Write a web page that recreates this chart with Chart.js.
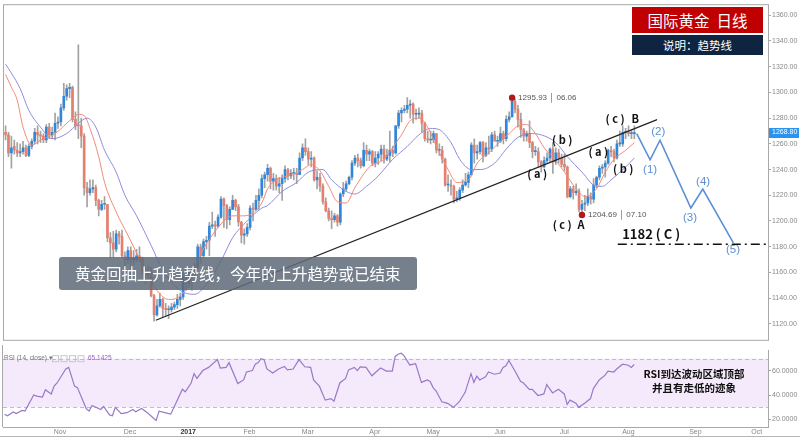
<!DOCTYPE html>
<html><head><meta charset="utf-8">
<script src="https://cdn.jsdelivr.net/npm/chart.js@4.4.0/dist/chart.umd.min.js"></script>
<style>
html,body{margin:0;padding:0;background:#fff;}
#wrap{position:relative;width:800px;height:437px;overflow:hidden;font-family:"Noto Sans CJK SC","Noto Sans",sans-serif;}
canvas{position:absolute;left:0;}
#c1{top:0;}
#c2{top:345px;}
.ov{position:absolute;white-space:nowrap;}
.title{left:632px;top:7px;width:131px;height:26px;background:#c00000;color:#fff;font-size:15.5px;line-height:26px;text-align:center;}
.sub{left:632px;top:35px;width:131px;height:20px;background:#0f2440;color:#fff;font-size:11.5px;line-height:20px;text-align:center;}
.note{left:59px;top:257px;width:358px;height:33px;background:rgba(96,106,121,0.86);border-radius:3px;color:#fff;font-size:15.5px;line-height:33px;padding-left:16px;box-sizing:border-box;}
.rsinote{left:634px;top:367px;width:120px;text-align:center;font-weight:bold;font-size:10.5px;line-height:14px;color:#111;}
.bottomline{left:0;top:436px;width:800px;height:1px;background:#b5b5b5;}
</style></head>
<body>
<div id="wrap">
  <canvas id="c1" width="800" height="345"></canvas>
  <canvas id="c2" width="800" height="92"></canvas>
  <div class="ov title">国际黄金&nbsp;&nbsp;日线</div>
  <div class="ov sub">说明：趋势线</div>
  <div class="ov note">黄金回抽上升趋势线，今年的上升趋势或已结束</div>
  <div class="ov rsinote">RSI到达波动区域顶部<br>并且有走低的迹象</div>
  <div class="ov bottomline"></div>
</div>
<script>
// ---------------- DATA ----------------
const firstDay = -2; // trading-day number of the first candle (Nov 1 2016 = 17)
const openPrices = [
 1269,1267,1253,1258,1255,1253,1254,1257,1251,1258,1262,1269,1267,1266,1263,1273,1267,1269,1276,
 1277,1288,1297,1303,1304,1279,1275,1274,1266,1226,1222,1225,1226,1216,1209,1213,1213,1187,1183,1178,1190,1188,
 1173,1170,1177,1170,1170,1173,1171,1160,1158,1160,1142,1127,1134,1139,1132,1131,1131,1133,1135,1139,1141,1157,
 1151,1160,1160,1164,1180,1173,1184,1185,1196,1197,1196,1203,1217,1212,1201,1209,1216,1211,1199,1189,1190,1195,
 1210,1209,1216,1220,1233,1236,1241,1231,1233,1227,1229,1233,1240,1235,1237,1237,1236,1249,1257,1254,
 1248,1249,1232,1234,1227,1215,1208,1202,1201,1204,1199,1221,1225,1229,1234,1245,1249,1247,1243,1255,1252,1254,1245,
 1249,1252,1256,1248,1251,1255,1253,1274,1284,1286,1287,1290,1291,1283,1283,1284,1276,1264,1263,1263,
 1268,1255,1255,1248,1228,1228,1227,1217,1218,1224,1228,1230,1236,1259,1253,1254,1261,1251,1257,1256,1267,1262,1262,
 1268,1264,1279,1281,1293,1287,1279,1271,1266,1268,1261,1254,1254,1246,1242,1247,1249,1256,1246,1253,1249,1244,
 1242,1219,1225,1222,1223,1209,1213,1214,1219,1217,1228,1234,1241,1242,1245,1255,1254,1249,1260,1260,1269,
 1269,1268,1268];
const highPrices = [
 1274,1269,1266,1263,1261,1260,1262,1259,1260,1264,1272,1274,1270,1268,1275,1276,1273,1284,1281,
 1291,1307,1306,1307,1305,1285,1337,1280,1268,1230,1232,1232,1228,1217,1216,1219,1213,1191,1192,1193,1192,1193,
 1176,1180,1180,1177,1178,1180,1172,1164,1165,1164,1143,1139,1144,1140,1136,1134,1136,1137,1143,1144,1160,1163,
 1162,1163,1167,1182,1182,1186,1188,1199,1207,1200,1205,1219,1218,1213,1211,1220,1217,1213,1200,1194,1198,1212,
 1214,1220,1225,1236,1238,1244,1242,1237,1236,1234,1236,1243,1241,1240,1241,1241,1253,1260,1264,1257,
 1254,1250,1239,1237,1229,1218,1210,1208,1206,1205,1222,1230,1231,1235,1247,1251,1252,1249,1261,1259,1256,1255,1254,
 1254,1259,1259,1256,1270,1258,1274,1286,1288,1290,1296,1294,1292,1287,1288,1286,1277,1270,1270,1270,
 1268,1260,1258,1249,1236,1232,1228,1223,1226,1232,1237,1238,1261,1264,1259,1262,1262,1261,1266,1269,1270,1266,1273,
 1270,1282,1285,1295.93,1295,1290,1284,1272,1270,1278,1262,1258,1257,1247,1250,1253,1257,1261,1257,1256,1252,1252,
 1243,1227,1227,1229,1225,1216,1220,1225,1222,1233,1235,1243,1244,1247,1256,1258,1256,1263,1270,1274,1272,
 1274,1271,1274];
const lowPrices = [
 1263,1250,1241,1252,1250,1250,1252,1250,1250,1256,1260,1260,1261,1261,1261,1264,1264,1263,1272,
 1274,1286,1294,1296,1277,1271,1264,1257,1220,1211,1220,1222,1212,1204,1208,1209,1184,1171,1172,1176,1182,1171,
 1164,1167,1158,1166,1168,1168,1158,1151,1155,1141,1122,1126,1133,1125,1126,1124,1129,1131,1132,1134,1139,1146,
 1148,1146,1157,1163,1167,1171,1178,1173,1194,1188,1195,1202,1195,1194,1197,1209,1208,1196,1183,1182,1188,1193,
 1200,1208,1209,1218,1226,1231,1225,1224,1224,1222,1216,1230,1232,1233,1232,1229,1236,1247,1251,1244,
 1242,1231,1225,1223,1213,1207,1200,1194,1199,1196,1197,1219,1223,1228,1232,1243,1242,1241,1242,1247,1247,1243,1242,
 1244,1247,1245,1247,1246,1250,1252,1272,1277,1284,1284,1280,1276,1279,1280,1269,1262,1261,1260,1261,
 1253,1251,1245,1227,1223,1220,1214,1215,1216,1222,1227,1226,1235,1245,1248,1252,1246,1250,1252,1254,1262,1258,1261,
 1260,1262,1277,1281,1284,1273,1265,1262,1262,1257,1249,1251,1242,1238,1241,1245,1246,1237,1244,1245,1242,1239,
 1218,1218,1217,1220,1207,1204.69,1208,1212,1213,1214,1226,1232,1237,1234,1244,1250,1246,1248,1258,1258,1264,
 1266,1264,1264];
const closePrices = [
 1267,1253,1257,1255,1253,1254,1257,1251,1258,1262,1269,1267,1266,1263,1273,1267,1269,1276,1277,
 1288,1297,1303,1304,1279,1274,1274,1266,1226,1222,1225,1226,1216,1209,1213,1213,1187,1183,1178,1190,1188,1173,
 1170,1177,1170,1170,1173,1171,1160,1158,1160,1142,1127,1134,1139,1132,1131,1131,1133,1135,1139,1141,1157,1151,
 1160,1160,1164,1180,1173,1184,1185,1196,1197,1196,1203,1217,1212,1201,1209,1216,1211,1199,1189,1190,1195,1210,
 1209,1216,1220,1233,1236,1241,1231,1233,1227,1229,1233,1240,1235,1237,1237,1236,1249,1257,1254,1248,
 1249,1232,1234,1227,1215,1208,1202,1201,1204,1199,1221,1225,1229,1234,1245,1249,1247,1243,1255,1252,1254,1245,1249,
 1252,1256,1248,1251,1255,1253,1274,1284,1286,1287,1290,1291,1283,1283,1284,1276,1264,1263,1263,1268,
 1255,1255,1248,1228,1228,1227,1217,1218,1224,1228,1230,1236,1259,1253,1254,1261,1251,1257,1256,1267,1262,1262,1268,
 1264,1279,1281,1293,1287,1279,1271,1266,1268,1261,1254,1254,1246,1242,1247,1249,1256,1246,1253,1249,1244,1242,
 1219,1225,1222,1223,1209,1213,1214,1219,1217,1228,1234,1241,1242,1245,1255,1254,1249,1260,1260,1269,1269,
 1268,1268,1268.8];

const maFastDays = [-2,0,2,4,7,10,15,21,23,25,27,30,32,36,40,46,50,54,57,61,65,69,73,76,79,82,86,88,91,95,100,103,106,109,112,115,118,123,128,130,134,137,140,143,146,150,153,157,160,164,168,171,174,177,180,183,187,190,194,197,201,204,207,211,214];
const maFastValues = [1314,1304,1294,1273,1259,1263,1268,1280,1283,1282,1272,1250,1230,1207,1189,1162,1146,1139,1140,1151,1174,1189,1200,1204,1204,1205,1214,1225,1232,1235,1240,1244,1239,1227,1215,1214,1226,1242,1248,1254,1267,1278,1280,1273,1258,1240,1230,1232,1245,1253,1262,1268,1274,1275,1268,1257,1247,1238,1225,1219,1225,1238,1248,1255,1261];
const maSlowDays = [-2,0,3,6,10,14,19,23,26,29,32,36,39,43,48,52,58,63,67,72,76,81,86,88,93,98,102,107,110,115,118,122,126,131,136,140,144,147,151,154,158,161,166,170,174,178,182,187,191,196,201,203,206,211,214];
const maSlowValues = [1322,1315,1303,1286,1273,1264,1268,1276,1280,1273,1255,1238,1220,1204,1181,1162,1146,1143,1151,1169,1187,1200,1210,1212,1223,1230,1238,1240,1232,1223,1221,1227,1235,1248,1258,1267,1272,1271,1261,1248,1240,1240,1245,1256,1265,1268,1267,1261,1250,1238,1227,1227,1232,1242,1249];

const rsiDays = [-2,-1,1,2,4,5,8,9,11,12,14,15,16,19,20,22,23,26,27,28,31,32,34,35,36,38,40,42,43,45,47,50,51,53,55,57,59,60,62,63,64,66,68,71,72,74,75,78,80,81,83,84,85,86,87,88,90,92,94,95,97,99,101,103,104,106,108,110,111,113,115,116,118,119,120,122,124,126,127,129,131,132,133,134,135,137,139,141,143,144,145,146,148,150,152,154,155,156,158,159,160,161,163,164,166,168,169,170,171,173,175,176,178,179,181,183,184,186,188,190,191,192,194,195,197,199,200,202,204,205,207,208,210,212,213,214];
const rsiValues = [24.4,23,26.2,24.9,27.5,26.9,40.2,39.2,38.5,44.4,41,47.4,50,61.5,62.8,47.4,46.2,29,26.9,31.5,28.2,30.8,23.8,23.1,30,24.9,25.6,28.2,26.4,29,25.6,19.2,26.9,25.6,24.4,34.6,44.8,42.8,50,57.7,53.8,60.2,62.8,69.2,62.3,62.8,66.7,49.5,52.5,59,60.2,65.4,66.7,70,69.2,61.5,58.2,61.5,63.6,60.8,61.5,69.2,63.3,62.8,52.5,47.4,35.9,37.2,35.1,50,53.8,60.8,62.8,60.2,63.3,62.8,55.9,60.2,62.3,59.8,59.8,71.8,73.6,74.4,72.5,64.8,65.9,50.5,52.5,51.3,46.2,43.6,34.6,33.3,30,34.6,38.5,42.3,57.7,50.5,55.6,52.5,55.1,59,57.2,58.2,62.8,64.1,68.5,60.2,51.3,50,44.8,44.8,39.7,41,48.7,41.8,44.8,41,32.5,35.9,33.3,30,33.3,37.2,45.4,52.5,56.4,59.8,59,61.5,65.4,64.6,62.8,65.14];
const rsiLastText = '65.1425';

const priceTicks = [1120,1140,1160,1180,1200,1220,1240,1260,1280,1300,1320,1340,1360];
const rsiTicks = [20,40,60];
const monthLabels = ['Nov','Dec','2017','Feb','Mar','Apr','May','Jun','Jul','Aug','Sep','Oct'];
const monthDays = [17,41,61,82,102,125,145,168,190,212,235,256];

const trendDays = [49.6,221.8];
const trendValues = [1122.8,1278.8];
const waveDays = [214.8,219.4,222.8,233.4,237.5,248];
const waveValues = [1268,1247.6,1262.8,1210.1,1224.8,1183];
const waveTexts = ['(1)','(2)','(3)','(4)','(5)'];
const waveTextDays = [219.4,222.2,233.1,237.6,247.9];
const waveTextValues = [1240,1269.7,1202.7,1230.1,1177.6];
const letterTexts = ['( c )','B','( a )','( b )','( b )','( a )','( c )','A'];
const letterDays = [207.4,214.3,201.6,210.2,189.2,180.6,189.2,195.7];
const letterValues = [1279.6,1279.6,1253.7,1240.8,1262.8,1237,1197.4,1197.4];
const targetLevel = 1182;
const targetDays = [208.3,259.9];
const targetText = '1182 ( C )';
const targetTextDay = 209.8, targetTextValue = 1189.8;
const extremeDays = [172,196];
const extremeValues = [1295.93,1204.69];
const extremeTexts = ['1295.93 │ 06.06','1204.69 │ 07.10'];
const lastPrice = 1268.80;

// ---------------- CHART ----------------
const xMin = -2.54, xMax = 259.9;
const UP = '#2f87dd', DOWN = '#e4806d', WICK = '#a2a2a2';
const days = closePrices.map((_,k)=>firstDay+k);
const isUp = k => closePrices[k] >= openPrices[k];
const pts = (xs,ys)=>xs.map((d,k)=>({x:d,y:ys[k]}));
const latin = '"Liberation Sans", Arial, sans-serif';
const cjk = '"Noto Sans CJK SC", sans-serif';

const mainPlugin = {
  id:'mainDeco',
  afterDatasetsDraw(chart){
    const {ctx, chartArea:a} = chart;
    const x = chart.scales.x, y = chart.scales.y;
    ctx.save();
    ctx.strokeStyle = '#a8a8a8'; ctx.lineWidth = 1;
    ctx.strokeRect(a.left-0.5, a.top-0.5, a.right-a.left+1, a.bottom-a.top+1);
    ctx.textAlign='center'; ctx.textBaseline='middle';
    ctx.fillStyle='#5b8fd0'; ctx.font='11.5px '+latin;
    waveTexts.forEach((t,k)=>ctx.fillText(t, x.getPixelForValue(waveTextDays[k]), y.getPixelForValue(waveTextValues[k])));
    ctx.fillStyle='#111'; ctx.font='bold 11px '+cjk;
    letterTexts.forEach((t,k)=>ctx.fillText(t, x.getPixelForValue(letterDays[k]), y.getPixelForValue(letterValues[k])));
    ctx.textAlign='left'; ctx.font='bold 13px '+cjk;
    ctx.fillText(targetText, x.getPixelForValue(targetTextDay), y.getPixelForValue(targetTextValue));
    ctx.fillStyle='#555'; ctx.font='8px '+latin;
    extremeTexts.forEach((t,k)=>ctx.fillText(t, x.getPixelForValue(extremeDays[k])+6, y.getPixelForValue(extremeValues[k])));
    ctx.restore();
  },
  afterDraw(chart){
    const {ctx, chartArea:a} = chart;
    const py = chart.scales.y.getPixelForValue(lastPrice);
    ctx.save();
    ctx.fillStyle='#2a93ef'; ctx.fillRect(a.right+1, Math.round(py)-5, 30, 10);
    ctx.fillStyle='#fff'; ctx.font='7px '+latin; ctx.textAlign='left'; ctx.textBaseline='middle';
    ctx.fillText(lastPrice.toFixed(2), a.right+4, py);
    ctx.restore();
  }
};

new Chart(document.getElementById('c1'), {
  type:'bar',
  data:{datasets:[
    {type:'bar', data: days.map((d,k)=>({x:d,y:[lowPrices[k],highPrices[k]]})), backgroundColor:WICK, barThickness:1, grouped:false, order:6},
    {type:'bar', data: days.map((d,k)=>({x:d,y:[openPrices[k],closePrices[k]]})), backgroundColor:c=>isUp(c.dataIndex)?UP:DOWN, barThickness:2, minBarLength:1, grouped:false, order:5},
    {type:'line', data: pts(maSlowDays,maSlowValues), borderColor:'#8c8cdb', borderWidth:1, pointRadius:0, cubicInterpolationMode:'monotone', order:4},
    {type:'line', data: pts(maFastDays,maFastValues), borderColor:'#ef8b7a', borderWidth:1, pointRadius:0, cubicInterpolationMode:'monotone', order:3},
    {type:'line', data: pts(trendDays,trendValues), borderColor:'#222', borderWidth:1.2, pointRadius:0, order:2},
    {type:'line', data: pts(targetDays,[targetLevel,targetLevel]), borderColor:'#111', borderWidth:1.5, borderDash:[9,4,2,4], pointRadius:0, order:2},
    {type:'line', data: pts(waveDays,waveValues), borderColor:'#5b8fd6', borderWidth:1.6, pointRadius:0, order:1},
    {type:'line', data: pts(extremeDays,extremeValues), showLine:false, pointRadius:3.2, pointBackgroundColor:'#b2191c', pointBorderWidth:0, order:0}
  ]},
  options:{
    responsive:false, animation:false, devicePixelRatio:1,
    layout:{padding:{left:3,top:2,right:0,bottom:1}},
    plugins:{legend:{display:false}, tooltip:{enabled:false}},
    scales:{
      x:{type:'linear', min:xMin, max:xMax, display:false, offset:false},
      y:{type:'linear', position:'right', min:1107.6, max:1367.84, beginAtZero:false,
         afterBuildTicks:s=>{s.ticks = priceTicks.map(v=>({value:v}));},
         afterFit:s=>{s.width = 32;},
         ticks:{callback:v=>Number(v).toFixed(2), font:{size:7, family:latin}, color:'#8a8a8a', padding:1},
         grid:{drawOnChartArea:false, tickLength:3, color:'#a8a8a8'},
         border:{color:'#a8a8a8'}}
    }
  },
  plugins:[mainPlugin]
});

const rsiPlugin = {
  id:'rsiDeco',
  beforeDatasetsDraw(chart){
    const {ctx, chartArea:a} = chart; const y = chart.scales.y;
    const y70 = y.getPixelForValue(70), y30 = y.getPixelForValue(30);
    ctx.save();
    ctx.fillStyle='#f5eafb'; ctx.fillRect(a.left, y70, a.right-a.left, y30-y70);
    ctx.strokeStyle='#c9b2dc'; ctx.lineWidth=1; ctx.setLineDash([4,3]);
    [y70,y30].forEach(v=>{ctx.beginPath(); ctx.moveTo(a.left, Math.round(v)+0.5); ctx.lineTo(a.right, Math.round(v)+0.5); ctx.stroke();});
    ctx.restore();
  },
  afterDraw(chart){
    const {ctx, chartArea:a} = chart;
    const x = chart.scales.x;
    ctx.save();
    ctx.strokeStyle='#a8a8a8'; ctx.lineWidth=1;
    ctx.beginPath(); ctx.moveTo(a.left-0.5,0); ctx.lineTo(a.left-0.5,a.bottom); ctx.stroke();
    ctx.beginPath(); ctx.moveTo(a.left,a.bottom+0.5); ctx.lineTo(a.right,a.bottom+0.5); ctx.stroke();
    ctx.textBaseline='middle'; ctx.textAlign='left';
    ctx.fillStyle='#777'; ctx.font='6.5px '+latin;
    ctx.fillText('RSI (14, close) ▾', a.left+1, a.top+8);
    ctx.strokeStyle='#c8c8c8';
    for(let k=0;k<4;k++){ ctx.strokeRect(a.left+49.5+k*8.5, a.top+5.5, 6, 6); }
    ctx.fillStyle='#9a62c4'; ctx.fillText(rsiLastText, a.left+85, a.top+8);
    // month labels on the x scale positions
    ctx.textAlign='center';
    monthLabels.forEach((t,k)=>{
      const bold = t==='2017';
      ctx.font=(bold?'bold ':'')+'7px '+latin;
      ctx.fillStyle= bold?'#333':'#888';
      ctx.fillText(t, x.getPixelForValue(monthDays[k]), a.bottom+5);
    });
    ctx.restore();
  }
};

new Chart(document.getElementById('c2'), {
  type:'line',
  data:{datasets:[
    {data: pts(rsiDays,rsiValues), borderColor:'#9a78c8', borderWidth:1.2, pointRadius:0, tension:0}
  ]},
  options:{
    responsive:false, animation:false, devicePixelRatio:1,
    layout:{padding:{left:3,top:0,right:0,bottom:10}},
    plugins:{legend:{display:false}, tooltip:{enabled:false}},
    scales:{
      x:{type:'linear', min:xMin, max:xMax, offset:false, display:false},
      y:{type:'linear', position:'right', min:13.85, max:76.92,
         afterBuildTicks:s=>{s.ticks = rsiTicks.map(v=>({value:v}));},
         afterFit:s=>{s.width = 32;},
         ticks:{callback:v=>Number(v).toFixed(4), font:{size:7, family:latin}, color:'#8a8a8a', padding:1},
         grid:{drawOnChartArea:false, tickLength:3, color:'#a8a8a8'},
         border:{color:'#a8a8a8'}}
    }
  },
  plugins:[rsiPlugin]
});
</script>
</body></html>
